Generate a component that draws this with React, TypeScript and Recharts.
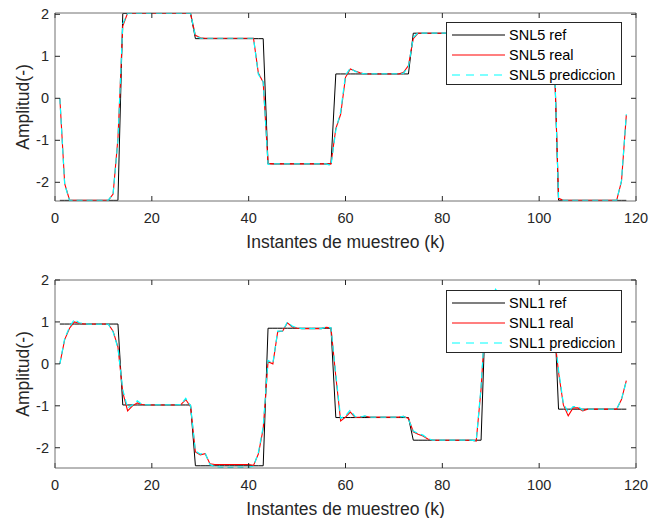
import React from "react";
import { LineChart, Line, XAxis, YAxis, Legend } from "recharts";

// sample index k = 1..118
const k = Array.from({ length: 118 }, (_, i) => i + 1);
const xTicks = [0, 20, 40, 60, 80, 100, 120];
const yTicks = [-2, -1, 0, 1, 2];
const seriesOrder = ["ref", "real", "pred"];

// SNL5 (top panel)
const ref5 = [
  -2.43, -2.43, -2.43, -2.43, -2.43, -2.43, -2.43, -2.43, -2.43, -2.43,
  -2.43, -2.43, -2.43, 2.02, 2.02, 2.02, 2.02, 2.02, 2.02, 2.02,
  2.02, 2.02, 2.02, 2.02, 2.02, 2.02, 2.02, 2.02, 1.42, 1.42,
  1.42, 1.42, 1.42, 1.42, 1.42, 1.42, 1.42, 1.42, 1.42, 1.42,
  1.42, 1.42, 1.42, -1.56, -1.56, -1.56, -1.56, -1.56, -1.56, -1.56,
  -1.56, -1.56, -1.56, -1.56, -1.56, -1.56, -1.56, 0.58, 0.58, 0.58,
  0.58, 0.58, 0.58, 0.58, 0.58, 0.58, 0.58, 0.58, 0.58, 0.58,
  0.58, 0.58, 0.58, 1.55, 1.55, 1.55, 1.55, 1.55, 1.55, 1.55,
  1.55, 1.55, 1.55, 1.55, 1.55, 1.55, 1.55, 1.55, 1.55, 1.55,
  1.55, 1.55, 1.55, 1.55, 1.55, 1.55, 1.55, 1.55, 1.55, 1.55,
  1.55, 1.55, 1.55, -2.43, -2.43, -2.43, -2.43, -2.43, -2.43, -2.43,
  -2.43, -2.43, -2.43, -2.43, -2.43, -2.43, -2.43, -2.43,
];
const real5 = [
  0, -2.03, -2.42, -2.43, -2.43, -2.43, -2.43, -2.43, -2.43, -2.43,
  -2.43, -2.28, -0.95, 1.72, 2.03, 2.02, 2.02, 2.02, 2.02, 2.02,
  2.02, 2.02, 2.02, 2.02, 2.02, 2.02, 2.02, 2.02, 1.5, 1.44,
  1.43, 1.43, 1.43, 1.43, 1.43, 1.43, 1.43, 1.43, 1.43, 1.43,
  1.43, 0.6, 0.38, -1.55, -1.56, -1.56, -1.56, -1.56, -1.56, -1.56,
  -1.56, -1.56, -1.56, -1.56, -1.56, -1.56, -1.56, -0.72, -0.38, 0.5,
  0.7, 0.65, 0.61, 0.58, 0.58, 0.58, 0.58, 0.58, 0.58, 0.58,
  0.58, 0.62, 0.78, 1.42, 1.55, 1.55, 1.55, 1.55, 1.55, 1.55,
  1.55, 1.55, 1.55, 1.55, 1.55, 1.55, 1.55, 1.55, 1.55, 1.55,
  1.55, 1.55, 1.55, 1.55, 1.55, 1.55, 1.55, 1.55, 1.55, 1.55,
  1.55, 1.55, 1.5, -2.38, -2.43, -2.43, -2.43, -2.43, -2.43, -2.43,
  -2.43, -2.43, -2.43, -2.43, -2.43, -2.43, -1.98, -0.4,
];
const pred5 = [
  0, -2.05, -2.43, -2.43, -2.43, -2.43, -2.43, -2.43, -2.43, -2.43,
  -2.43, -2.27, -1.0, 1.78, 2.02, 2.02, 2.02, 2.02, 2.02, 2.02,
  2.02, 2.02, 2.02, 2.02, 2.02, 2.02, 2.02, 2.02, 1.48, 1.43,
  1.43, 1.43, 1.43, 1.43, 1.43, 1.43, 1.43, 1.43, 1.43, 1.43,
  1.43, 0.57, 0.39, -1.57, -1.56, -1.56, -1.56, -1.56, -1.56, -1.56,
  -1.56, -1.56, -1.56, -1.56, -1.56, -1.56, -1.6, -0.76, -0.32, 0.55,
  0.72, 0.64, 0.6, 0.58, 0.58, 0.58, 0.58, 0.58, 0.58, 0.58,
  0.58, 0.6, 0.75, 1.45, 1.56, 1.55, 1.55, 1.55, 1.55, 1.55,
  1.55, 1.55, 1.55, 1.55, 1.55, 1.55, 1.55, 1.55, 1.55, 1.55,
  1.55, 1.55, 1.55, 1.55, 1.55, 1.55, 1.55, 1.55, 1.55, 1.55,
  1.55, 1.55, 1.52, -2.36, -2.43, -2.43, -2.43, -2.43, -2.43, -2.43,
  -2.43, -2.43, -2.43, -2.43, -2.43, -2.43, -1.96, -0.38,
];

// SNL1 (bottom panel)
const ref1 = [
  0.95, 0.95, 0.95, 0.95, 0.95, 0.95, 0.95, 0.95, 0.95, 0.95,
  0.95, 0.95, 0.95, -0.98, -0.98, -0.98, -0.98, -0.98, -0.98, -0.98,
  -0.98, -0.98, -0.98, -0.98, -0.98, -0.98, -0.98, -0.98, -2.43, -2.43,
  -2.43, -2.43, -2.43, -2.43, -2.43, -2.43, -2.43, -2.43, -2.43, -2.43,
  -2.43, -2.43, -2.43, 0.85, 0.85, 0.85, 0.85, 0.85, 0.85, 0.85,
  0.85, 0.85, 0.85, 0.85, 0.85, 0.85, 0.85, -1.28, -1.28, -1.28,
  -1.28, -1.28, -1.28, -1.28, -1.28, -1.28, -1.28, -1.28, -1.28, -1.28,
  -1.28, -1.28, -1.28, -1.82, -1.82, -1.82, -1.82, -1.82, -1.82, -1.82,
  -1.82, -1.82, -1.82, -1.82, -1.82, -1.82, -1.82, -1.82, 1.6, 1.6,
  1.6, 1.6, 1.6, 1.6, 1.6, 1.6, 1.6, 1.6, 1.6, 1.6,
  1.6, 1.6, 1.6, -1.08, -1.08, -1.08, -1.08, -1.08, -1.08, -1.08,
  -1.08, -1.08, -1.08, -1.08, -1.08, -1.08, -1.08, -1.08,
];
const real1 = [
  0, 0.58, 0.85, 1.0, 0.97, 0.95, 0.95, 0.95, 0.95, 0.95,
  0.95, 0.78, 0.4, -0.68, -1.12, -1.0, -0.93, -0.97, -0.98, -0.98,
  -0.98, -0.98, -0.98, -0.98, -0.98, -0.97, -0.85, -1.02, -2.1, -2.17,
  -2.14, -2.38, -2.4, -2.4, -2.4, -2.4, -2.4, -2.4, -2.4, -2.4,
  -2.42, -2.15, -1.55, 0.05, 0.0, 0.77, 0.78, 0.98, 0.88, 0.85,
  0.84, 0.84, 0.84, 0.84, 0.84, 0.87, 0.86, -0.3, -1.36, -1.27,
  -1.15, -1.28, -1.27, -1.25, -1.27, -1.27, -1.27, -1.27, -1.27, -1.27,
  -1.27, -1.25, -1.3, -1.62, -1.68, -1.72, -1.79, -1.82, -1.82, -1.82,
  -1.82, -1.82, -1.82, -1.82, -1.82, -1.82, -1.84, -0.6, 1.3, 1.6,
  1.7, 1.6, 1.6, 1.6, 1.6, 1.6, 1.6, 1.6, 1.6, 1.6,
  1.6, 1.6, 0.85, -0.2, -0.98, -1.24, -1.05, -1.05, -1.12, -1.08,
  -1.08, -1.08, -1.08, -1.08, -1.08, -1.08, -0.85, -0.4,
];
const pred1 = [
  0, 0.6, 0.88, 1.06, 0.98, 0.96, 0.95, 0.95, 0.95, 0.95,
  0.95, 0.76, 0.38, -0.62, -1.05, -0.98, -0.88, -0.97, -0.98, -0.98,
  -0.98, -0.98, -0.98, -0.98, -0.98, -0.97, -0.82, -1.0, -2.08, -2.15,
  -2.12, -2.4, -2.45, -2.46, -2.47, -2.47, -2.47, -2.46, -2.47, -2.46,
  -2.44, -2.12, -1.5, 0.08, 0.02, 0.78, 0.78, 1.0, 0.9, 0.86,
  0.84, 0.84, 0.84, 0.84, 0.84, 0.88, 0.86, -0.25, -1.3, -1.24,
  -1.1, -1.26, -1.27, -1.24, -1.27, -1.27, -1.27, -1.27, -1.27, -1.27,
  -1.27, -1.25, -1.32, -1.6, -1.66, -1.7, -1.78, -1.82, -1.82, -1.82,
  -1.82, -1.82, -1.82, -1.82, -1.82, -1.82, -1.84, -0.55, 1.35, 1.55,
  1.78, 1.6, 1.6, 1.6, 1.6, 1.6, 1.6, 1.6, 1.6, 1.6,
  1.6, 1.6, 0.9, -0.15, -0.95, -1.15, -1.02, -1.02, -1.1, -1.08,
  -1.08, -1.08, -1.08, -1.08, -1.08, -1.08, -0.84, -0.42,
];

const FONT = '"Liberation Sans", Arial, Helvetica, sans-serif';
const TXT = "#262626";
const BOX = "#707070";

const topData = k.map((x, i) => ({ k: x, ref: ref5[i], real: real5[i], pred: pred5[i] }));
const botData = k.map((x, i) => ({ k: x, ref: ref1[i], real: real1[i], pred: pred1[i] }));

const LegendBox = ({ payload }: any) => {
  const items = [...(payload || [])].sort(
    (a: any, b: any) => seriesOrder.indexOf(a.dataKey) - seriesOrder.indexOf(b.dataKey)
  );
  return (
    <div
      style={{
        width: 174,
        height: 61,
        border: "1px solid #262626",
        background: "#fff",
        fontFamily: FONT,
        fontSize: 14.5,
        color: "#000",
        boxSizing: "content-box",
      }}
    >
      {items.map((entry: any, i: number) => (
        <div key={i} style={{ height: 20, display: "flex", alignItems: "center", marginTop: i === 0 ? 2 : 0 }}>
          <svg width={62} height={20} style={{ display: "block" }}>
            <line
              x1={5}
              x2={58}
              y1={10}
              y2={10}
              stroke={entry.color}
              strokeWidth={1.2}
              strokeDasharray={entry.dataKey === "pred" ? "8 6" : undefined}
            />
          </svg>
          <span style={{ whiteSpace: "nowrap" }}>{entry.value}</span>
        </div>
      ))}
    </div>
  );
};

type PanelProps = {
  data: any[];
  name: string;
  domain: [number, number];
  top: number;
  xh: number;
  legendTop: number;
};

const Panel = ({ data, name, domain, top, xh, legendTop }: PanelProps) => (
  <LineChart
    width={662}
    height={259}
    data={data}
    margin={{ top, right: 25, bottom: 0, left: 0 }}
    style={{ fontFamily: FONT }}
  >
    <XAxis
      xAxisId="b"
      dataKey="k"
      type="number"
      domain={[0, 120]}
      ticks={xTicks}
      allowDataOverflow
      height={xh}
      tickSize={-5}
      tickMargin={17}
      axisLine={{ stroke: BOX }}
      tickLine={{ stroke: TXT }}
      tick={{ fill: TXT, fontSize: 14.5 }}
      label={{
        value: "Instantes de muestreo (k)",
        position: "insideTop",
        offset: 35,
        style: { fill: TXT, fontSize: 17.5 },
      }}
    />
    <XAxis
      xAxisId="t"
      orientation="top"
      dataKey="k"
      type="number"
      domain={[0, 120]}
      ticks={xTicks}
      allowDataOverflow
      height={1}
      tickSize={-5}
      axisLine={{ stroke: BOX }}
      tickLine={{ stroke: TXT }}
      tickFormatter={() => ""}
    />
    <YAxis
      yAxisId="l"
      type="number"
      domain={domain}
      ticks={yTicks}
      allowDataOverflow
      width={55}
      tickSize={-5}
      tickMargin={11}
      axisLine={{ stroke: BOX }}
      tickLine={{ stroke: TXT }}
      tick={{ fill: TXT, fontSize: 14.5 }}
      label={{
        value: "Amplitud(-)",
        angle: -90,
        position: "insideLeft",
        offset: 23,
        style: { fill: TXT, fontSize: 17.5, textAnchor: "middle" },
      }}
    />
    <YAxis
      yAxisId="r"
      orientation="right"
      type="number"
      domain={domain}
      ticks={yTicks}
      allowDataOverflow
      width={1}
      tickSize={-5}
      axisLine={{ stroke: BOX }}
      tickLine={{ stroke: TXT }}
      tickFormatter={() => ""}
    />
    <Line
      xAxisId="b"
      yAxisId="l"
      type="linear"
      dataKey="ref"
      name={`${name} ref`}
      stroke="#000000"
      strokeWidth={1}
      dot={false}
      isAnimationActive={false}
    />
    <Line
      xAxisId="b"
      yAxisId="l"
      type="linear"
      dataKey="real"
      name={`${name} real`}
      stroke="#ff0000"
      strokeWidth={1.1}
      dot={false}
      isAnimationActive={false}
    />
    <Line
      xAxisId="b"
      yAxisId="l"
      type="linear"
      dataKey="pred"
      name={`${name} prediccion`}
      stroke="#00ffff"
      strokeWidth={1.2}
      strokeDasharray="6 4"
      dot={false}
      isAnimationActive={false}
    />
    <Legend
      layout="vertical"
      align="center"
      verticalAlign="middle"
      content={<LegendBox />}
      wrapperStyle={{ left: 446, top: legendTop, width: 176, height: 63 }}
    />
  </LineChart>
);

export default function App() {
  return (
    <div style={{ position: "absolute", left: 0, top: 0, width: 662, height: 518, background: "#fff" }}>
      <Panel data={topData} name="SNL5" domain={[-2.445, 2.031]} top={12} xh={58} legendTop={22} />
      <Panel data={botData} name="SNL1" domain={[-2.483, 2]} top={20} xh={50} legendTop={31} />
    </div>
  );
}
